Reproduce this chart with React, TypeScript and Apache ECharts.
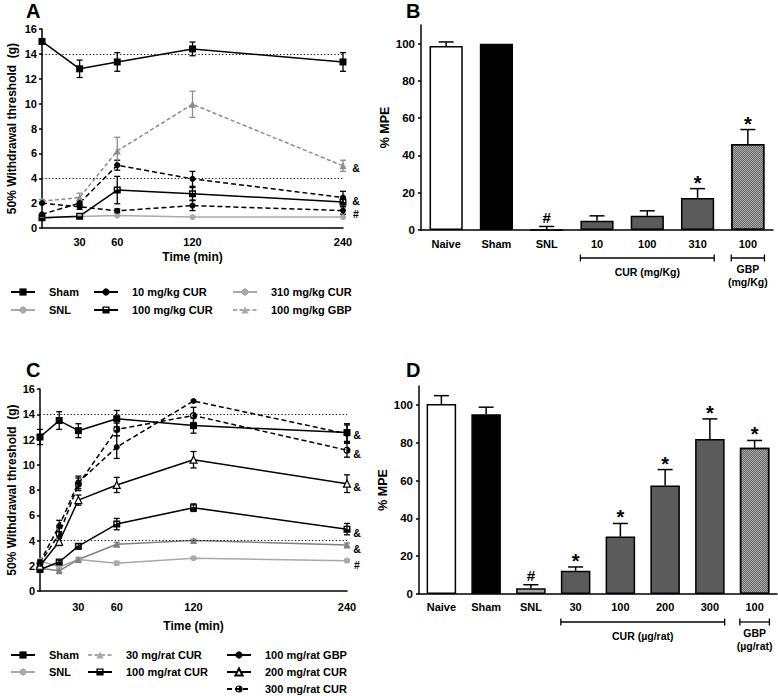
import React, { useEffect, useRef } from 'react';
import * as echarts from 'echarts';

const FONT = '"Liberation Sans", Arial, Helvetica, sans-serif';

// ---------- Panel A (time course, mg/kg) ----------
const timesA = [0, 30, 60, 120, 240];
const timeTicksA = [30, 60, 120, 240];
const shamA = [15.0, 12.8, 13.35, 14.4, 13.35];
const shamAErr = [0, 0.7, 0.75, 0.55, 0.75];
const snlA = [0.8, 0.92, 1.0, 0.88, 0.88];
const snlAErr = [0, 0, 0, 0, 0];
const cur10A = [2.0, 1.7, 1.38, 1.8, 1.4];
const cur10AErr = [0, 0.2, 0.15, 0.4, 0.3];
const cur100A = [0.82, 0.95, 3.05, 2.75, 2.1];
const cur100AErr = [0, 0.05, 1.1, 0.5, 0.35];
const cur310A = [1.1, 2.0, 5.05, 3.95, 2.45];
const cur310AErr = [0, 0.2, 0.4, 0.6, 0.5];
const gbpA = [2.15, 2.45, 6.2, 9.95, 5.0];
const gbpAErr = [0.15, 0.35, 1.1, 1.05, 0.45];
const refLines = [14, 4];
const marksAValues = [4.85, 2.2, 1.1];
const marksAText = ['&', '&', '#'];

// ---------- Panel B (%MPE, mg/kg) ----------
const catsB = ['Naive', 'Sham', 'SNL', '10', '100', '310', '100'];
const mpeB = [98.7, 100, 0, 4.9, 7.6, 17.2, 46.1];
const mpeBErr = [2.2, 0, 1.9, 2.7, 2.7, 5.0, 7.8];
const sigB = ['', '', '#', '', '', '*', '*'];
const kindB = ['white', 'black', 'light', 'dark', 'dark', 'dark', 'hatch'];
const groupsB = [
  { from: 3, to: 5, label: ['CUR (mg/Kg)'] },
  { from: 6, to: 6, label: ['GBP', '(mg/Kg)'] },
];

// ---------- Panel C (time course, per rat) ----------
const timesC = [0, 15, 30, 60, 120, 240];
const timeTicksC = [30, 60, 120, 240];
const shamC = [12.2, 13.5, 12.7, 13.65, 13.1, 12.55];
const shamCErr = [0.6, 0.7, 0.55, 0.65, 0.6, 0.7];
const snlC = [2.4, 1.9, 2.5, 2.2, 2.6, 2.4];
const snlCErr = [0.1, 0.1, 0.1, 0.15, 0.1, 0.1];
const cur30C = [1.8, 1.6, 2.5, 3.7, 4.0, 3.65];
const cur30CErr = [0.1, 0.1, 0.15, 0.15, 0.1, 0.15];
const cur100C = [1.7, 2.3, 3.55, 5.3, 6.6, 4.9];
const cur100CErr = [0.1, 0.15, 0.2, 0.45, 0.3, 0.45];
const cur200C = [2.0, 3.9, 7.2, 8.4, 10.4, 8.5];
const cur200CErr = [0.2, 0.3, 0.4, 0.6, 0.65, 0.7];
const gbpC = [2.3, 5.15, 8.6, 11.4, 15.05, 12.45];
const gbpCErr = [0.2, 0.45, 0.5, 0.9, 0, 0.7];
const cur300C = [2.2, 4.5, 8.45, 12.8, 13.9, 11.15];
const cur300CErr = [0.2, 0.5, 0.5, 0.5, 0.65, 0.55];
const marksCValues = [12.35, 10.85, 8.23, 4.6, 3.3, 2.06];
const marksCText = ['&', '&', '&', '&', '&', '#'];

// ---------- Panel D (%MPE, per rat) ----------
const catsD = ['Naive', 'Sham', 'SNL', '30', '100', '200', '300', '100'];
const mpeD = [100.5, 95.1, 3.0, 12.3, 30.4, 57.4, 82.0, 77.3];
const mpeDErr = [4.4, 3.7, 1.9, 2.0, 6.9, 8.4, 10.6, 3.9];
const sigD = ['', '', '#', '*', '*', '*', '*', '*'];
const kindD = ['white', 'black', 'light', 'dark', 'dark', 'dark', 'dark', 'hatch'];
const groupsD = [
  { from: 3, to: 6, label: ['CUR (\u00b5g/rat)'] },
  { from: 7, to: 7, label: ['GBP', '(\u00b5g/rat)'] },
];
const mpeTicks = [0, 20, 40, 60, 80, 100];

// ---------- styles ----------
const BLACK = '#000';
const LIGHT = '#a9a9a9';
const MID = '#808080';
const HALF_SQUARE = 'path://M0,0L10,0L10,10L0,10Z M2,2L2,5L8,5L8,2Z';
const HALF_CIRCLE = 'path://M5,0A5,5,0,1,1,5,10A5,5,0,1,1,5,0Z M5,1.6A3.4,3.4,0,0,0,5,8.4Z';
const DASH = [5, 3];
const FINE_DASH = [4, 2.5];
const BAR_FRAC = 0.66;

const BAR_STYLES: Record<string, any> = {
  white: { color: '#fff', borderColor: BLACK, borderWidth: 1.5 },
  black: { color: '#000', borderColor: BLACK, borderWidth: 1.5 },
  light: { color: '#a6a6a6', borderColor: BLACK, borderWidth: 1.5 },
  dark: { color: '#5b5b5b', borderColor: BLACK, borderWidth: 1.5 },
  hatch: {
    color: '#a8a8a8',
    borderColor: BLACK,
    borderWidth: 1.5,
    decal: {
      symbol: 'rect',
      symbolSize: 1,
      dashArrayX: [[1, 1], [0, 1, 1, 0]],
      dashArrayY: [1, 0],
      color: '#6a6a6a',
      backgroundColor: '#d4d4d4',
    },
  },
};

const txt = (text: string, size: number, align = 'center', vAlign = 'middle') => ({
  text,
  fill: '#000',
  textFill: '#000',
  font: `bold ${size}px ${FONT}`,
  fontSize: size,
  fontWeight: 'bold',
  fontFamily: FONT,
  align,
  textAlign: align,
  verticalAlign: vAlign,
  textVerticalAlign: vAlign,
});

const labelStyle = (size = 11) => ({ color: '#000', fontSize: size, fontWeight: 'bold', fontFamily: FONT });
const axisLine = { show: true, lineStyle: { color: '#000', width: 1.5 } };

function lineSeries(axis: number, name: string, times: number[], vals: number[], s: any) {
  return {
    type: 'line',
    name,
    xAxisIndex: axis,
    yAxisIndex: axis,
    data: times.map((t, i) => [t, vals[i]]),
    symbol: s.symbol,
    symbolSize: s.size,
    showSymbol: true,
    showAllSymbol: true,
    lineStyle: { color: s.color, width: 1.5, type: s.dash },
    itemStyle: {
      color: s.fill ?? s.color,
      borderColor: s.color,
      borderWidth: s.fill ? 1.2 : 0,
    },
    z: 4,
    animation: false,
  };
}

function errSeries(axis: number, times: number[], vals: number[], errs: number[], color: string) {
  const data = times
    .map((t, i) => [t, vals[i] - errs[i], vals[i] + errs[i], errs[i]])
    .filter((d) => d[3] > 0);
  return {
    type: 'custom',
    xAxisIndex: axis,
    yAxisIndex: axis,
    data,
    z: 3,
    silent: true,
    renderItem: (_p: any, api: any) => {
      const x = api.value(0);
      const lo = api.coord([x, api.value(1)]);
      const hi = api.coord([x, api.value(2)]);
      const st = { stroke: color, lineWidth: 1.3 };
      const cw = 3;
      return {
        type: 'group',
        children: [
          { type: 'line', shape: { x1: lo[0], y1: lo[1], x2: hi[0], y2: hi[1] }, style: st },
          { type: 'line', shape: { x1: lo[0] - cw, y1: lo[1], x2: lo[0] + cw, y2: lo[1] }, style: st },
          { type: 'line', shape: { x1: hi[0] - cw, y1: hi[1], x2: hi[0] + cw, y2: hi[1] }, style: st },
        ],
      };
    },
  };
}

function markSeries(axis: number, xPos: number, values: number[], texts: string[], dx: number) {
  return {
    type: 'custom',
    xAxisIndex: axis,
    yAxisIndex: axis,
    data: values.map((v) => [xPos, v]),
    z: 6,
    silent: true,
    renderItem: (p: any, api: any) => {
      const c = api.coord([api.value(0), api.value(1)]);
      return { type: 'text', x: c[0] + dx, y: c[1], style: txt(texts[p.dataIndex], 10.5) };
    },
  };
}

function barSeries(axis: number, vals: number[], kinds: string[]) {
  return {
    type: 'bar',
    xAxisIndex: axis,
    yAxisIndex: axis,
    barWidth: `${BAR_FRAC * 100}%`,
    data: vals.map((v, i) => ({ value: v, itemStyle: BAR_STYLES[kinds[i]] })),
    z: 2,
    animation: false,
  };
}

function barErrSeries(axis: number, vals: number[], errs: number[], sigs: string[]) {
  return {
    type: 'custom',
    xAxisIndex: axis,
    yAxisIndex: axis,
    data: vals.map((v, i) => [i, v, v + errs[i]]),
    z: 5,
    silent: true,
    renderItem: (p: any, api: any) => {
      const i = p.dataIndex;
      const base = api.coord([i, api.value(1)]);
      const top = api.coord([i, api.value(2)]);
      const st = { stroke: '#000', lineWidth: 1.5 };
      const children: any[] = [];
      if (errs[i] > 0) {
        children.push({ type: 'line', shape: { x1: base[0], y1: base[1], x2: top[0], y2: top[1] }, style: st });
        children.push({ type: 'line', shape: { x1: top[0] - 7.5, y1: top[1], x2: top[0] + 7.5, y2: top[1] }, style: st });
      }
      const s = sigs[i];
      if (s) {
        const star = s === '*';
        children.push({
          type: 'text',
          x: top[0],
          y: top[1] - (star ? 6 : 9),
          style: txt(s, star ? 20 : 15),
        });
      }
      return { type: 'group', children };
    },
  };
}

function bracketSeries(axis: number, groups: { from: number; to: number; label: string[] }[]) {
  return {
    type: 'custom',
    xAxisIndex: axis,
    yAxisIndex: axis,
    data: groups.map((g) => [g.from, g.to]),
    z: 5,
    silent: true,
    clip: false,
    renderItem: (p: any, api: any) => {
      const g = groups[p.dataIndex];
      const band = api.size([1, 0])[0];
      const half = (band * BAR_FRAC) / 2;
      const a = api.coord([api.value(0), 0]);
      const b = api.coord([api.value(1), 0]);
      const x0 = a[0] - half;
      const x1 = b[0] + half;
      const y = a[1] + 28;
      const st = { stroke: '#000', lineWidth: 1.3 };
      const children: any[] = [
        { type: 'line', shape: { x1: x0, y1: y, x2: x1, y2: y }, style: st },
        { type: 'line', shape: { x1: x0, y1: y - 3.5, x2: x0, y2: y + 3.5 }, style: st },
        { type: 'line', shape: { x1: x1, y1: y - 3.5, x2: x1, y2: y + 3.5 }, style: st },
      ];
      const offs = g.label.length === 1 ? [13.5] : [11, 24];
      g.label.forEach((t, k) => {
        children.push({ type: 'text', x: (x0 + x1) / 2, y: y + offs[k], style: txt(t, 10.5) });
      });
      return { type: 'group', children };
    },
  };
}

function legendCol(names: any[], left: number, top: number, gap: number) {
  return {
    orient: 'vertical',
    left,
    top,
    padding: 0,
    itemWidth: 24,
    itemHeight: 9,
    itemGap: gap,
    selectedMode: false,
    data: names,
    textStyle: { ...labelStyle(11), lineHeight: 12, padding: [0, 0, 0, 9] },
  };
}

function timeXAxis(grid: number, ticks: number[], gap: number, margin: number) {
  return {
    type: 'value',
    gridIndex: grid,
    min: 0,
    max: 240,
    interval: 30,
    axisLine,
    axisTick: { show: false },
    splitLine: { show: false },
    axisLabel: {
      ...labelStyle(11),
      margin,
      formatter: (v: number) => (ticks.includes(v) ? String(v) : ''),
    },
    name: 'Time (min)',
    nameLocation: 'middle',
    nameGap: gap,
    nameTextStyle: labelStyle(12),
  };
}

function thresholdYAxis(grid: number, gap: number) {
  return {
    type: 'value',
    gridIndex: grid,
    min: 0,
    max: 16,
    interval: 2,
    axisLine,
    axisTick: { show: true, length: 3, lineStyle: { color: '#000', width: 1.5 } },
    splitLine: { show: false },
    axisLabel: { ...labelStyle(11), margin: 5 },
    name: '50% Withdrawal threshold  (g)',
    nameLocation: 'middle',
    nameGap: gap,
    nameTextStyle: labelStyle(12),
  };
}

function catXAxis(grid: number, cats: string[], margin: number) {
  return {
    type: 'category',
    gridIndex: grid,
    data: cats,
    axisLine,
    axisTick: { show: false },
    axisLabel: { ...labelStyle(11), margin, interval: 0 },
  };
}

function mpeYAxis(grid: number, gap: number) {
  return {
    type: 'value',
    gridIndex: grid,
    min: 0,
    max: 110,
    interval: 20,
    axisLine,
    axisTick: { show: true, length: 3, lineStyle: { color: '#000', width: 1.5 }, customValues: mpeTicks },
    splitLine: { show: false },
    axisLabel: {
      ...labelStyle(11.5),
      margin: 6,
      customValues: mpeTicks,
      formatter: (v: number) => (v > 100 ? '' : String(v)),
    },
    name: '% MPE',
    nameLocation: 'middle',
    nameGap: gap,
    nameTextStyle: labelStyle(12.5),
  };
}

function buildOption() {
  const refMark = {
    silent: true,
    symbol: 'none',
    label: { show: false },
    lineStyle: { type: [1.2, 2.2], color: '#000', width: 1 },
    data: refLines.map((v) => ({ yAxis: v })),
  };

  const series: any[] = [
    // Panel A
    errSeries(0, timesA, shamA, shamAErr, BLACK),
    errSeries(0, timesA, cur10A, cur10AErr, BLACK),
    errSeries(0, timesA, cur100A, cur100AErr, BLACK),
    errSeries(0, timesA, cur310A, cur310AErr, BLACK),
    errSeries(0, timesA, gbpA, gbpAErr, '#8c8c8c'),
    errSeries(0, timesA, snlA, snlAErr, LIGHT),
    lineSeries(0, 'SNL', timesA, snlA, { symbol: 'circle', size: 6, color: LIGHT, dash: 'solid' }),
    lineSeries(0, '100 mg/kg GBP', timesA, gbpA, { symbol: 'triangle', size: 7, color: '#8c8c8c', dash: FINE_DASH }),
    lineSeries(0, '10 mg/kg CUR', timesA, cur10A, { symbol: 'circle', size: 6, color: BLACK, dash: DASH }),
    lineSeries(0, '310 mg/kg CUR', timesA, cur310A, { symbol: 'circle', size: 6, color: BLACK, dash: DASH }),
    lineSeries(0, '100 mg/kg CUR', timesA, cur100A, { symbol: HALF_SQUARE, size: 7, color: BLACK, dash: 'solid' }),
    { ...lineSeries(0, 'Sham', timesA, shamA, { symbol: 'rect', size: 7, color: BLACK, dash: 'solid' }), markLine: refMark },
    markSeries(0, 240, marksAValues, marksAText, 13),

    // Panel B
    barSeries(1, mpeB, kindB),
    barErrSeries(1, mpeB, mpeBErr, sigB),
    bracketSeries(1, groupsB),

    // Panel C
    errSeries(2, timesC, shamC, shamCErr, BLACK),
    errSeries(2, timesC, snlC, snlCErr, LIGHT),
    errSeries(2, timesC, cur30C, cur30CErr, MID),
    errSeries(2, timesC, cur100C, cur100CErr, BLACK),
    errSeries(2, timesC, cur200C, cur200CErr, BLACK),
    errSeries(2, timesC, gbpC, gbpCErr, BLACK),
    errSeries(2, timesC, cur300C, cur300CErr, BLACK),
    lineSeries(2, 'SNL', timesC, snlC, { symbol: 'circle', size: 6, color: LIGHT, dash: 'solid' }),
    lineSeries(2, '30 mg/rat CUR', timesC, cur30C, { symbol: 'triangle', size: 7, color: MID, dash: 'solid' }),
    lineSeries(2, '100 mg/rat CUR', timesC, cur100C, { symbol: HALF_SQUARE, size: 7, color: BLACK, dash: 'solid' }),
    lineSeries(2, '200 mg/rat CUR', timesC, cur200C, { symbol: 'triangle', size: 7, color: BLACK, fill: '#fff', dash: 'solid' }),
    lineSeries(2, '100 mg/rat GBP', timesC, gbpC, { symbol: 'circle', size: 6, color: BLACK, dash: DASH }),
    lineSeries(2, '300 mg/rat CUR', timesC, cur300C, { symbol: HALF_CIRCLE, size: 7, color: BLACK, dash: DASH }),
    { ...lineSeries(2, 'Sham', timesC, shamC, { symbol: 'rect', size: 7, color: BLACK, dash: 'solid' }), markLine: refMark },
    markSeries(2, 240, marksCValues, marksCText, 10),

    // Panel D
    barSeries(3, mpeD, kindD),
    barErrSeries(3, mpeD, mpeDErr, sigD),
    bracketSeries(3, groupsD),
  ];

  const gridBase = { containLabel: false, outerBoundsMode: 'none' };

  return {
    animation: false,
    backgroundColor: '#fff',
    textStyle: { fontFamily: FONT },
    grid: [
      { ...gridBase, left: 42, top: 29, width: 301, height: 199 },
      { ...gridBase, left: 421, top: 25, width: 352, height: 205 },
      { ...gridBase, left: 40, top: 389, width: 307, height: 202 },
      { ...gridBase, left: 419, top: 386, width: 358, height: 208 },
    ],
    xAxis: [
      timeXAxis(0, timeTicksA, 23, 8),
      catXAxis(1, catsB, 8.5),
      timeXAxis(2, timeTicksC, 29, 10),
      catXAxis(3, catsD, 7.5),
    ],
    yAxis: [thresholdYAxis(0, 24), mpeYAxis(1, 28), thresholdYAxis(2, 22), mpeYAxis(3, 26)],
    legend: [
      legendCol(['Sham', 'SNL'], 10, 286, 6),
      legendCol(
        [{ name: '10 mg/kg CUR', lineStyle: { type: 'solid' } }, '100 mg/kg CUR'],
        93,
        286,
        6,
      ),
      legendCol(
        [
          { name: '310 mg/kg CUR', itemStyle: { color: LIGHT, borderColor: LIGHT }, lineStyle: { color: LIGHT, type: 'solid' } },
          { name: '100 mg/kg GBP', itemStyle: { color: LIGHT, borderColor: LIGHT }, lineStyle: { color: LIGHT } },
        ],
        232,
        286,
        6,
      ),
      legendCol(['Sham', 'SNL'], 10, 649, 5),
      legendCol(
        [
          { name: '30 mg/rat CUR', itemStyle: { color: LIGHT, borderColor: LIGHT }, lineStyle: { color: LIGHT, type: FINE_DASH } },
          '100 mg/rat CUR',
        ],
        87,
        649,
        5,
      ),
      legendCol(
        [{ name: '100 mg/rat GBP', lineStyle: { type: 'solid' } }, '200 mg/rat CUR', '300 mg/rat CUR'],
        226,
        649,
        5,
      ),
    ],
    graphic: [
      { type: 'text', x: 26, y: 11, style: txt('A', 20, 'left') },
      { type: 'text', x: 406, y: 11, style: txt('B', 20, 'left') },
      { type: 'text', x: 26, y: 370, style: txt('C', 20, 'left') },
      { type: 'text', x: 406, y: 370, style: txt('D', 20, 'left') },
    ],
    series,
  };
}

export default function App() {
  const ref = useRef<HTMLDivElement>(null);
  useEffect(() => {
    document.body.style.margin = '0';
    const chart = echarts.init(ref.current as HTMLDivElement, null, { renderer: 'svg' });
    chart.setOption(buildOption() as any);
    return () => chart.dispose();
  }, []);
  return <div ref={ref} style={{ width: 778, height: 696, background: '#fff' }} />;
}
